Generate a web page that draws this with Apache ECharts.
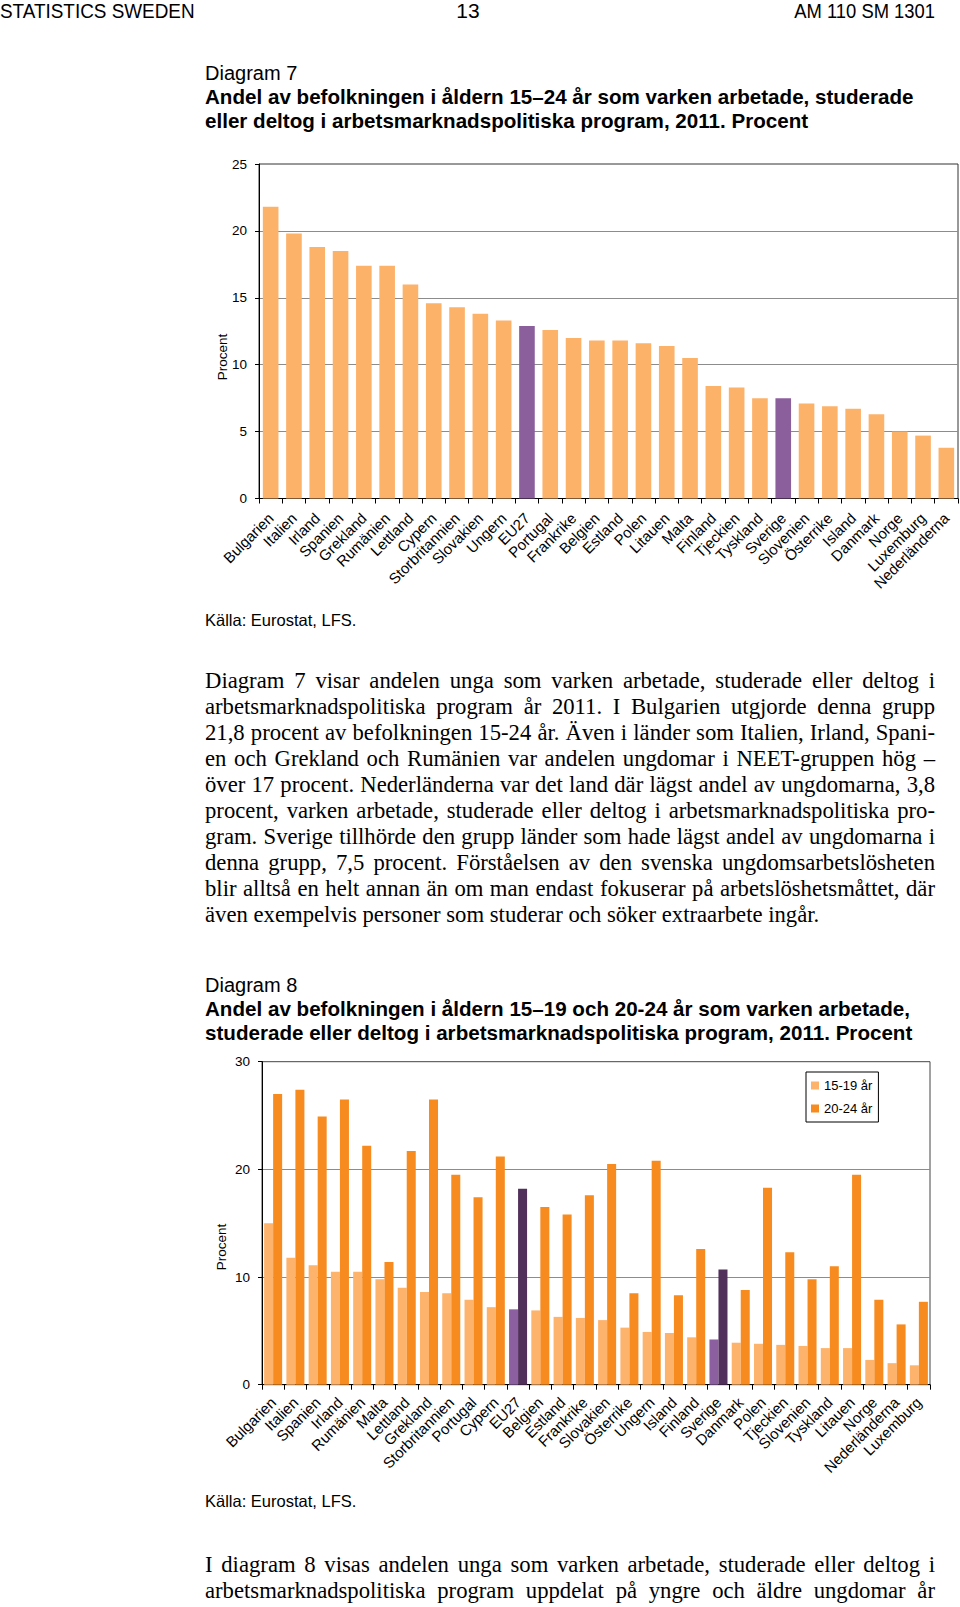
<!DOCTYPE html>
<html><head><meta charset="utf-8">
<script src="https://cdn.jsdelivr.net/npm/echarts@6/dist/echarts.min.js"></script>
<style>
html,body{margin:0;padding:0;background:#fff;}
#page{position:relative;width:960px;height:1607px;overflow:hidden;background:#fff;}
.sans{font-family:"Liberation Sans",Arial,sans-serif;color:#000;position:absolute;white-space:nowrap;}
.hdr{font-size:20px;line-height:22px;top:0;transform:scaleX(0.945);}
.title{left:205px;font-size:20px;line-height:24px;}
.title b{font-weight:bold;font-size:20.6px;}
.src{left:205px;font-size:16.5px;line-height:20px;}
.para{position:absolute;left:205px;width:730px;font-family:"Liberation Serif","Times New Roman",serif;font-size:22.7px;line-height:26px;color:#000;}
.para div{text-align:justify;text-align-last:justify;height:26px;white-space:nowrap;}
.para div.last{text-align-last:left;}
.chart{position:absolute;}
</style></head>
<body><div id="page">
<div class="sans hdr" style="left:0;transform-origin:left top;">STATISTICS SWEDEN</div>
<div class="sans hdr" style="left:440px;width:56px;text-align:center;font-size:21px;transform:none;">13</div>
<div class="sans hdr" style="right:25px;transform-origin:right top;transform:scaleX(0.92);">AM 110 SM 1301</div>

<div class="sans title" style="top:61px;">Diagram 7<br><b>Andel av befolkningen i åldern 15–24 år som varken arbetade, studerade</b><br><b>eller deltog i arbetsmarknadspolitiska program, 2011. Procent</b></div>

<div id="c1" class="chart" style="left:180px;top:140px;width:780px;height:480px;"></div>
<div class="sans src" style="top:610px;">Källa: Eurostat, LFS.</div>

<div class="para" style="top:668px;">
<div>Diagram 7 visar andelen unga som varken arbetade, studerade eller deltog i</div>
<div>arbetsmarknadspolitiska program år 2011. I Bulgarien utgjorde denna grupp</div>
<div>21,8 procent av befolkningen 15-24 år. Även i länder som Italien, Irland, Spani-</div>
<div>en och Grekland och Rumänien var andelen ungdomar i NEET-gruppen hög –</div>
<div>över 17 procent. Nederländerna var det land där lägst andel av ungdomarna, 3,8</div>
<div>procent, varken arbetade, studerade eller deltog i arbetsmarknadspolitiska pro-</div>
<div>gram. Sverige tillhörde den grupp länder som hade lägst andel av ungdomarna i</div>
<div>denna grupp, 7,5 procent. Förståelsen av den svenska ungdomsarbetslösheten</div>
<div>blir alltså en helt annan än om man endast fokuserar på arbetslöshetsmåttet, där</div>
<div class="last">även exempelvis personer som studerar och söker extraarbete ingår.</div>
</div>

<div class="sans title" style="top:973px;">Diagram 8<br><b>Andel av befolkningen i åldern 15–19 och 20-24 år som varken arbetade,</b><br><b>studerade eller deltog i arbetsmarknadspolitiska program, 2011. Procent</b></div>

<div id="c2" class="chart" style="left:180px;top:1040px;width:780px;height:460px;"></div>
<div class="sans src" style="top:1491px;">Källa: Eurostat, LFS.</div>

<div class="para" style="top:1552px;">
<div>I diagram 8 visas andelen unga som varken arbetade, studerade eller deltog i</div>
<div>arbetsmarknadspolitiska program uppdelat på yngre och äldre ungdomar år</div>
</div>
</div>
<script>
// ---- Diagram 7 data ----
const cat1 = ['Bulgarien','Italien','Irland','Spanien','Grekland','Rumänien','Lettland','Cypern','Storbritannien','Slovakien','Ungern','EU27','Portugal','Frankrike','Belgien','Estland','Polen','Litauen','Malta','Finland','Tjeckien','Tyskland','Sverige','Slovenien','Österrike','Island','Danmark','Norge','Luxemburg','Nederländerna'];
const val1 = [21.8,19.8,18.8,18.5,17.4,17.4,16.0,14.6,14.3,13.8,13.3,12.9,12.6,12.0,11.8,11.8,11.6,11.4,10.5,8.4,8.3,7.5,7.5,7.1,6.9,6.7,6.3,5.0,4.7,3.8];
const ticks1 = [0,5,10,15,20,25];

// ---- Diagram 8 data ----
const cat2 = ['Bulgarien','Italien','Spanien','Irland','Rumänien','Malta','Lettland','Grekland','Storbritannien','Portugal','Cypern','EU27','Belgien','Estland','Frankrike','Slovakien','Österrike','Ungern','Island','Finland','Sverige','Danmark','Polen','Tjeckien','Slovenien','Tyskland','Litauen','Norge','Nederländerna','Luxemburg'];
const v1519 = [15.0,11.8,11.1,10.5,10.5,9.8,9.0,8.6,8.5,7.9,7.2,7.0,6.9,6.3,6.2,6.0,5.3,4.9,4.8,4.4,4.2,3.9,3.8,3.7,3.6,3.4,3.4,2.3,2.0,1.8];
const v2024 = [27.0,27.4,24.9,26.5,22.2,11.4,21.7,26.5,19.5,17.4,21.2,18.2,16.5,15.8,17.6,20.5,8.5,20.8,8.3,12.6,10.7,8.8,18.3,12.3,9.8,11.0,19.5,7.9,5.6,7.7];
const ticks2 = [0,10,20,30];
const seriesNames = ['15-19 år','20-24 år'];
const highlight = ['EU27','Sverige'];
const yName = 'Procent';

const FF = '"Liberation Sans", Arial, sans-serif';
const ORANGE1 = '#FDB26A', PURPLE1 = '#8B5E9C';
const LIGHT2 = '#FDB36C', DARK2 = '#F78B1F', LPURP2 = '#8C60A0', DPURP2 = '#52305C';

function yAxisCfg(ticks){
  return {
    type:'value', min:ticks[0], max:ticks[ticks.length-1], interval:ticks[1]-ticks[0],
    axisLine:{show:true,lineStyle:{color:'#000',width:1}},
    axisTick:{show:true,length:4,lineStyle:{color:'#000'}},
    axisLabel:{fontSize:13.5,color:'#000',fontFamily:FF,margin:12},
    splitLine:{show:true,showMinLine:false,showMaxLine:false,lineStyle:{color:'#8c8c8c',width:1}}
  };
}
function xAxisCfg(cats, margin){
  return {
    type:'category', data:cats,
    axisLine:{show:true,lineStyle:{color:'#000',width:1}},
    axisTick:{show:true,interval:0,length:5,lineStyle:{color:'#000'}},
    axisLabel:{interval:0,rotate:45,fontSize:15,color:'#000',fontFamily:FF,margin:margin}
  };
}
function yTitle(x,y){
  return {type:'text', x:x, y:y, rotation:Math.PI/2, silent:true,
    style:{text:yName, fontSize:13.5, fontFamily:FF, fill:'#000', align:'center', verticalAlign:'middle'}};
}

const c1 = echarts.init(document.getElementById('c1'), null, {renderer:'svg'});
c1.setOption({
  animation:false,
  grid:{left:79,right:2,top:24,bottom:121.5,show:true,borderColor:'#333',borderWidth:1,containLabel:false,outerBoundsMode:'none'},
  xAxis:xAxisCfg(cat1,17),
  yAxis:yAxisCfg(ticks1),
  graphic:[yTitle(42,217)],
  series:[{
    type:'bar', barCategoryGap:'33%', silent:true,
    data:cat1.map((c,i)=>({value:val1[i], itemStyle:{color: highlight.includes(c)?PURPLE1:ORANGE1}}))
  }]
});

const c2 = echarts.init(document.getElementById('c2'), null, {renderer:'svg'});
c2.setOption({
  animation:false,
  grid:{left:82,right:30,top:21.7,bottom:115.3,show:true,borderColor:'#444',borderWidth:1,containLabel:false,outerBoundsMode:'none'},
  legend:{
    orient:'vertical', left:626, top:32, itemWidth:8, itemHeight:8, itemGap:10,
    padding:[7,6,7,5], borderColor:'#000', borderWidth:1, borderRadius:0, backgroundColor:'#fff',
    icon:'rect', selectedMode:false,
    textStyle:{fontSize:13,color:'#000',fontFamily:FF},
    data:seriesNames
  },
  xAxis:xAxisCfg(cat2,15),
  yAxis:yAxisCfg(ticks2),
  graphic:[yTitle(41,207)],
  series:[
    {name:seriesNames[0], type:'bar', barGap:'0%', barCategoryGap:'19%', silent:true, itemStyle:{color:LIGHT2},
     data:cat2.map((c,i)=>highlight.includes(c)?{value:v1519[i],itemStyle:{color:LPURP2}}:v1519[i])},
    {name:seriesNames[1], type:'bar', barGap:'0%', barCategoryGap:'19%', silent:true, itemStyle:{color:DARK2},
     data:cat2.map((c,i)=>highlight.includes(c)?{value:v2024[i],itemStyle:{color:DPURP2}}:v2024[i])}
  ]
});
</script>
</body></html>
